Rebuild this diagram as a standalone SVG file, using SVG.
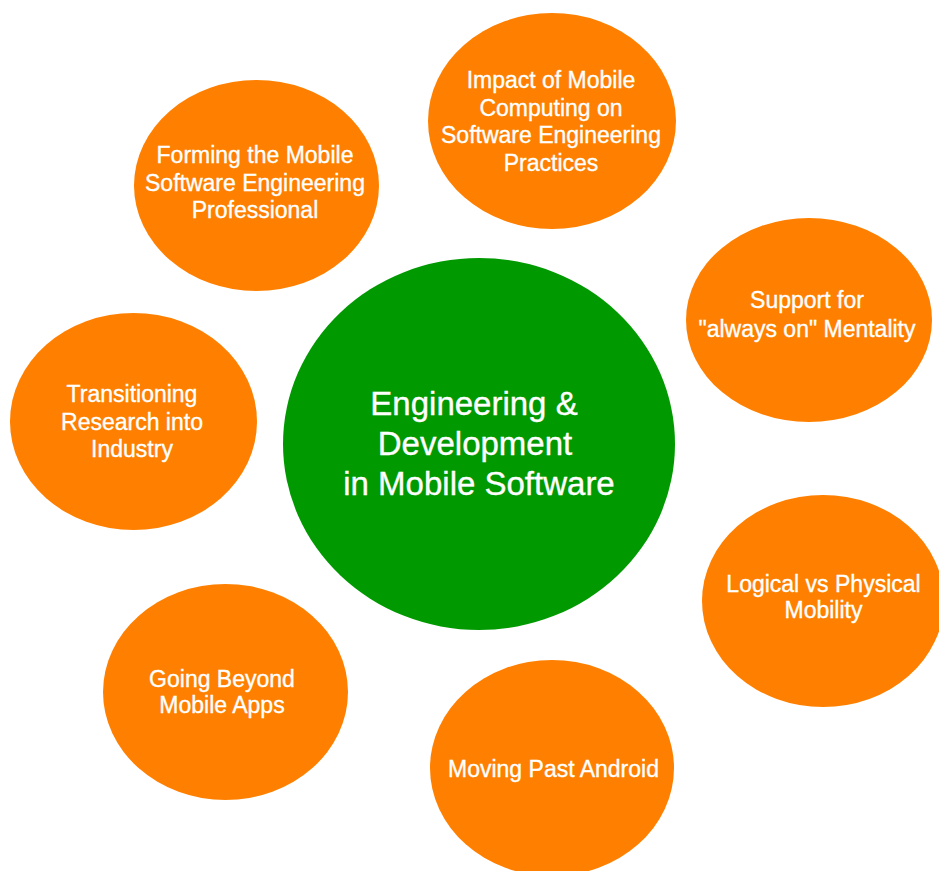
<svg xmlns="http://www.w3.org/2000/svg" width="939" height="871" viewBox="0 0 939 871">
  <style>
    .topic { fill: #FF8000; }
    .hub { fill: #009900; }
    text { fill: #FFFFFF; stroke: #FFFFFF; stroke-width: 0.35; font-family: "Liberation Sans", Arial, Helvetica, sans-serif; text-anchor: middle; }
    .t { font-size: 23px; }
    .h { font-size: 33px; }
  </style>
  <rect x="0" y="0" width="939" height="871" fill="#FFFFFF"/>

  <g id="connectors"></g>

  <g id="hub">
    <ellipse class="hub" cx="479" cy="444" rx="196" ry="186"/>
    <text class="h" x="474" y="415">Engineering &amp;</text>
    <text class="h" x="475" y="455">Development</text>
    <text class="h" x="479" y="495">in Mobile Software</text>
  </g>

  <g id="impact">
    <ellipse class="topic" cx="552" cy="121" rx="124" ry="108"/>
    <text class="t" x="551" y="88">Impact of Mobile</text>
    <text class="t" x="551" y="116">Computing on</text>
    <text class="t" x="551" y="143">Software Engineering</text>
    <text class="t" x="551" y="171">Practices</text>
  </g>

  <g id="forming">
    <ellipse class="topic" cx="256.5" cy="185.5" rx="122.5" ry="105.5"/>
    <text class="t" x="255" y="163">Forming the Mobile</text>
    <text class="t" x="255" y="191">Software Engineering</text>
    <text class="t" x="255" y="218">Professional</text>
  </g>

  <g id="support">
    <ellipse class="topic" cx="809" cy="320" rx="123" ry="102"/>
    <text class="t" x="807" y="308">Support for</text>
    <text class="t" x="807" y="337">"always on" Mentality</text>
  </g>

  <g id="transitioning">
    <ellipse class="topic" cx="133.5" cy="421.5" rx="123.5" ry="108.5"/>
    <text class="t" x="132" y="402">Transitioning</text>
    <text class="t" x="132" y="430">Research into</text>
    <text class="t" x="132" y="457">Industry</text>
  </g>

  <g id="logical">
    <ellipse class="topic" cx="823" cy="601" rx="121" ry="106"/>
    <text class="t" x="823.5" y="592">Logical vs Physical</text>
    <text class="t" x="823.5" y="618">Mobility</text>
  </g>

  <g id="beyond">
    <ellipse class="topic" cx="225.5" cy="692" rx="122.5" ry="108"/>
    <text class="t" x="222" y="687">Going Beyond</text>
    <text class="t" x="222" y="713">Mobile Apps</text>
  </g>

  <g id="android">
    <ellipse class="topic" cx="552" cy="768" rx="122" ry="108"/>
    <text class="t" x="553.5" y="777">Moving Past Android</text>
  </g>
</svg>
